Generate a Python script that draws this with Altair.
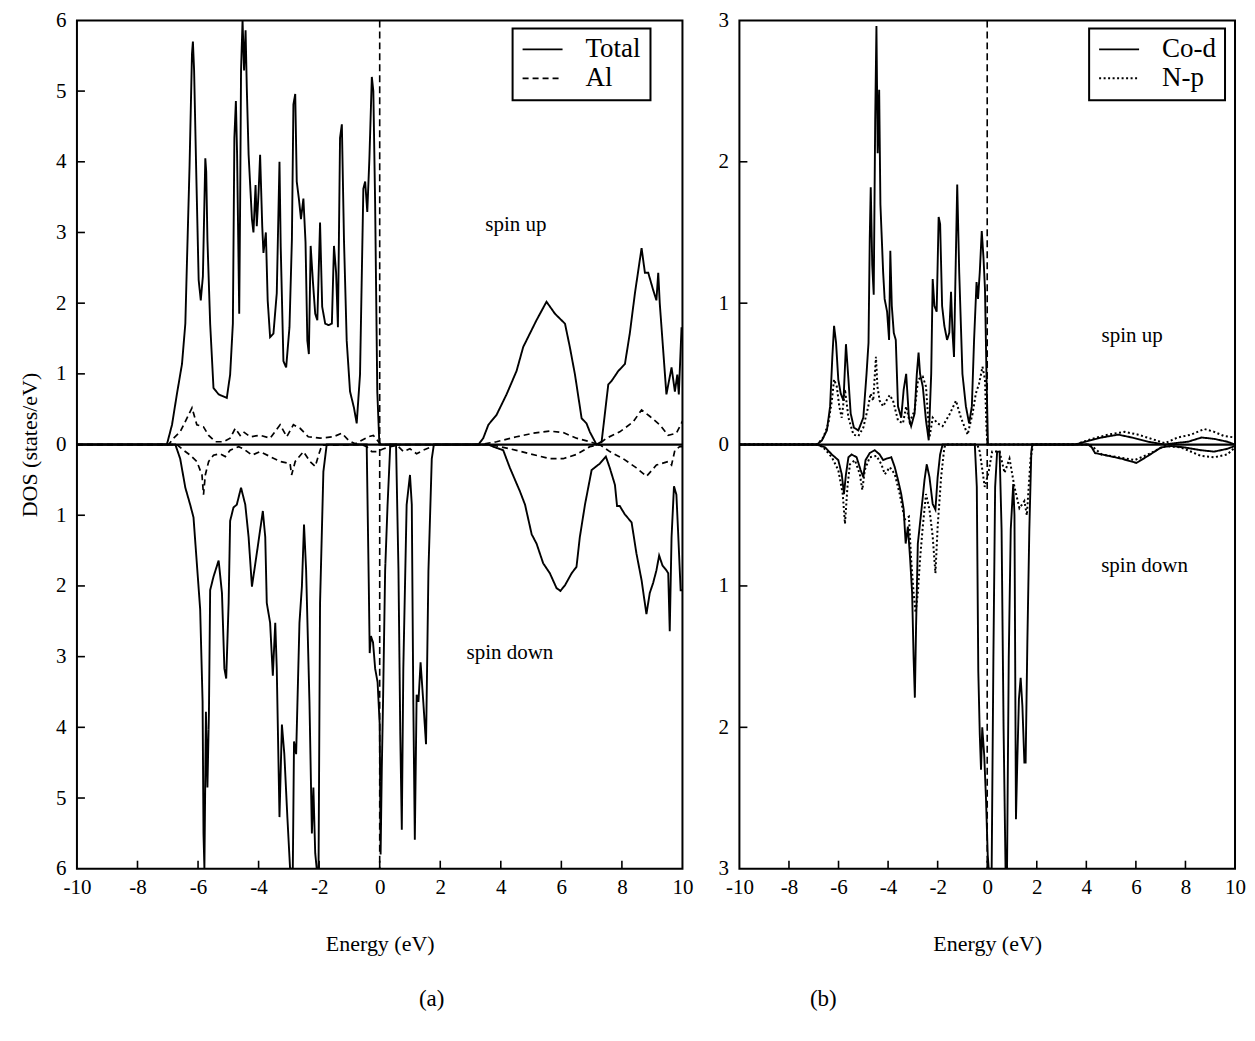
import altair as alt
import pandas as pd

FONT = "Liberation Serif"

# ---------------- axis ticks ----------------
X_TICKS = [-10, -8, -6, -4, -2, 0, 2, 4, 6, 8, 10]
X_INNER_TICKS = [-8, -6, -4, -2, 0, 2, 4, 6, 8]
A_Y_TICKS = [-6, -5, -4, -3, -2, -1, 0, 1, 2, 3, 4, 5, 6]
A_Y_INNER = [-5, -4, -3, -2, -1, 1, 2, 3, 4, 5]
B_Y_TICKS = [-3, -2, -1, 0, 1, 2, 3]
B_Y_INNER = [-2, -1, 1, 2]
FERMI = [0]
ZERO = [0]

# ---------------- panel (a): (energy, |DOS|) ----------------
A_TOTAL_UP = [
    (-10, 0), (-7.03, 0), (-6.86, 0.28), (-6.70, 0.71), (-6.53, 1.14), (-6.42, 1.71), (-6.37, 2.52),
    (-6.28, 3.95), (-6.20, 5.53), (-6.17, 5.70), (-6.13, 5.29), (-6.06, 3.86), (-5.98, 2.33),
    (-5.91, 2.04), (-5.84, 2.38), (-5.76, 4.05), (-5.73, 3.86), (-5.69, 2.90), (-5.60, 1.71),
    (-5.49, 0.80), (-5.32, 0.71), (-5.16, 0.68), (-5.05, 0.66), (-4.94, 0.99), (-4.85, 1.71),
    (-4.80, 4.34), (-4.75, 4.86), (-4.71, 4.10), (-4.64, 1.85), (-4.61, 3.38), (-4.58, 5.29),
    (-4.53, 6.0), (-4.48, 5.29), (-4.43, 5.86), (-4.39, 5.05), (-4.33, 4.10), (-4.22, 3.19),
    (-4.17, 3.0), (-4.10, 3.67), (-4.06, 3.09), (-4.00, 3.57), (-3.95, 4.10), (-3.88, 3.09),
    (-3.84, 2.71), (-3.76, 3.0), (-3.70, 2.04), (-3.62, 1.52), (-3.51, 1.57), (-3.40, 2.14),
    (-3.31, 4.0), (-3.27, 2.81), (-3.18, 1.18), (-3.09, 1.09), (-2.98, 1.66), (-2.90, 2.90),
    (-2.85, 4.81), (-2.79, 4.96), (-2.74, 3.72), (-2.67, 3.48), (-2.60, 3.19), (-2.52, 3.48),
    (-2.45, 2.86), (-2.39, 1.47), (-2.34, 1.28), (-2.28, 2.81), (-2.21, 2.33), (-2.13, 1.85),
    (-2.06, 1.76), (-1.97, 3.14), (-1.90, 1.95), (-1.80, 1.71), (-1.69, 1.69), (-1.58, 1.71),
    (-1.51, 2.81), (-1.44, 2.43), (-1.38, 1.66), (-1.31, 4.34), (-1.25, 4.53), (-1.18, 2.90),
    (-1.09, 1.47), (-0.98, 0.75), (-0.85, 0.52), (-0.76, 0.30), (-0.65, 0.99), (-0.54, 3.62),
    (-0.48, 3.72), (-0.41, 3.29), (-0.34, 4.05), (-0.26, 5.20), (-0.21, 5.0), (-0.15, 3.38),
    (-0.08, 0.75), (-0.01, 0), (3.26, 0), (3.42, 0.09), (3.59, 0.28), (3.86, 0.42), (4.19, 0.71),
    (4.52, 1.04), (4.74, 1.38), (4.96, 1.57), (5.18, 1.76), (5.51, 2.02), (5.79, 1.85),
    (6.12, 1.71), (6.28, 1.38), (6.45, 0.99), (6.67, 0.37), (6.83, 0.30), (6.94, 0.18),
    (7.16, 0), (7.33, 0.04), (7.55, 0.85), (7.66, 0.90), (7.88, 1.04), (8.10, 1.14),
    (8.26, 1.57), (8.43, 2.14), (8.65, 2.78), (8.76, 2.43), (8.87, 2.43), (9.03, 2.19),
    (9.14, 2.04), (9.20, 2.43), (9.25, 2.0), (9.47, 0.71), (9.64, 1.09), (9.75, 0.75),
    (9.83, 0.99), (9.88, 0.71), (9.97, 1.66),
]
A_TOTAL_DOWN = [
    (-10, 0), (-6.75, 0), (-6.59, 0.20), (-6.42, 0.61), (-6.26, 0.85), (-6.15, 1.03), (-6.04, 1.68),
    (-5.93, 2.33), (-5.85, 3.64), (-5.82, 5.50), (-5.79, 6.0), (-5.74, 3.78), (-5.69, 4.85),
    (-5.64, 3.78), (-5.60, 2.06), (-5.49, 1.87), (-5.32, 1.64), (-5.21, 2.10), (-5.13, 3.17),
    (-5.07, 3.31), (-4.99, 2.24), (-4.94, 1.08), (-4.83, 0.89), (-4.72, 0.85), (-4.58, 0.61),
    (-4.44, 0.85), (-4.33, 1.31), (-4.22, 2.01), (-4.06, 1.54), (-3.86, 0.94), (-3.78, 1.31),
    (-3.73, 2.24), (-3.62, 2.52), (-3.53, 3.27), (-3.45, 2.52), (-3.40, 3.17), (-3.31, 5.27),
    (-3.23, 3.96), (-3.15, 4.38), (-3.05, 5.27), (-2.96, 6.0), (-2.87, 6.0), (-2.83, 4.20),
    (-2.76, 4.38), (-2.65, 2.52), (-2.57, 2.01), (-2.50, 1.13), (-2.43, 1.78), (-2.32, 3.64),
    (-2.24, 5.50), (-2.19, 4.85), (-2.13, 5.78), (-2.08, 6.0), (-2.02, 6.0), (-1.97, 2.24),
    (-1.86, 0.38), (-1.75, 0), (-0.43, 0), (-0.36, 2.0), (-0.33, 2.95), (-0.29, 2.71),
    (-0.22, 2.80), (-0.15, 3.17), (-0.07, 3.36), (0.0, 3.96), (0.03, 5.8), (0.07, 4.57),
    (0.11, 3.64), (0.18, 1.78), (0.26, 0.85), (0.35, 0), (0.54, 0), (0.62, 1.78), (0.68, 4.10),
    (0.73, 5.45), (0.78, 3.17), (0.89, 0.85), (1.00, 0.43), (1.06, 0.85), (1.11, 3.64),
    (1.16, 5.59), (1.22, 3.54), (1.28, 3.64), (1.35, 3.08), (1.44, 3.64), (1.53, 4.24),
    (1.61, 1.78), (1.72, 0.20), (1.79, 0), (3.59, 0), (3.75, 0.03), (4.08, 0.08), (4.30, 0.33),
    (4.63, 0.66), (4.80, 0.85), (5.02, 1.27), (5.18, 1.40), (5.40, 1.68), (5.62, 1.82),
    (5.84, 2.03), (5.97, 2.07), (6.12, 1.99), (6.34, 1.82), (6.50, 1.73), (6.61, 1.31),
    (6.78, 0.85), (7.00, 0.36), (7.27, 0.27), (7.47, 0.17), (7.60, 0.33), (7.77, 0.57),
    (7.84, 0.87), (7.93, 0.87), (8.10, 0.99), (8.32, 1.10), (8.48, 1.54), (8.65, 1.92),
    (8.81, 2.40), (8.92, 2.10), (9.03, 1.96), (9.14, 1.78), (9.23, 1.57), (9.34, 1.71),
    (9.47, 1.78), (9.53, 1.82), (9.58, 2.64), (9.64, 1.31), (9.72, 0.59), (9.80, 0.71),
    (9.86, 1.27), (9.94, 2.06), (10.0, 2.06),
]
A_AL_UP = [
    (-10, 0), (-6.97, 0), (-6.81, 0.09), (-6.59, 0.18), (-6.37, 0.37), (-6.20, 0.52), (-6.04, 0.28),
    (-5.82, 0.25), (-5.65, 0.13), (-5.43, 0.04), (-5.16, 0.04), (-4.94, 0.09), (-4.77, 0.23),
    (-4.61, 0.13), (-4.50, 0.18), (-4.28, 0.11), (-3.95, 0.13), (-3.62, 0.09), (-3.29, 0.28),
    (-3.07, 0.11), (-2.85, 0.28), (-2.63, 0.23), (-2.36, 0.11), (-1.97, 0.09), (-1.53, 0.11),
    (-1.25, 0.16), (-1.03, 0.06), (-0.81, 0.01), (-0.59, 0.06), (-0.37, 0.11), (-0.21, 0.13),
    (-0.04, 0.04), (0.05, 0), (3.31, 0), (3.86, 0.04), (4.52, 0.11), (5.07, 0.16), (5.62, 0.19),
    (6.06, 0.17), (6.50, 0.09), (6.94, 0.04), (7.22, 0), (7.49, 0.09), (7.93, 0.18), (8.37, 0.32),
    (8.65, 0.49), (8.92, 0.40), (9.25, 0.28), (9.53, 0.13), (9.80, 0.16), (10.0, 0.33),
]
A_AL_DOWN = [
    (-10, 0), (-6.70, 0), (-6.48, 0.08), (-6.26, 0.15), (-6.04, 0.24), (-5.87, 0.43), (-5.82, 0.71),
    (-5.76, 0.43), (-5.65, 0.24), (-5.49, 0.15), (-5.27, 0.13), (-5.10, 0.17), (-4.94, 0.08),
    (-4.66, 0.03), (-4.50, 0.06), (-4.22, 0.15), (-3.95, 0.10), (-3.62, 0.17), (-3.29, 0.24),
    (-2.96, 0.27), (-2.91, 0.43), (-2.79, 0.24), (-2.52, 0.10), (-2.30, 0.24), (-2.13, 0.31),
    (-2.02, 0.15), (-1.91, 0.01), (-0.60, 0), (-0.43, 0.03), (-0.26, 0.10), (-0.10, 0.10),
    (0.13, 0.06), (0.35, 0.03), (0.57, 0.01), (0.79, 0.10), (1.00, 0.06), (1.22, 0.13),
    (1.44, 0.08), (1.72, 0.03), (1.83, 0), (3.64, 0), (4.30, 0.06), (4.96, 0.13), (5.62, 0.20),
    (6.06, 0.20), (6.50, 0.14), (6.94, 0.03), (7.27, 0), (7.60, 0.10), (8.04, 0.20), (8.48, 0.33),
    (8.81, 0.45), (9.14, 0.29), (9.53, 0.24), (9.64, 0.29), (9.75, 0.08), (9.91, 0.03), (10.0, 0.03),
]

# ---------------- panel (b): (energy, |DOS|) ----------------
B_COD_UP = [
    (-10, 0), (-6.87, 0), (-6.67, 0.03), (-6.47, 0.10), (-6.34, 0.27), (-6.25, 0.62), (-6.18, 0.84),
    (-6.10, 0.72), (-6.01, 0.46), (-5.91, 0.36), (-5.80, 0.31), (-5.70, 0.71), (-5.60, 0.46),
    (-5.51, 0.22), (-5.38, 0.12), (-5.20, 0.10), (-5.00, 0.19), (-4.87, 0.50), (-4.79, 0.72),
    (-4.74, 1.46), (-4.70, 1.82), (-4.64, 1.27), (-4.58, 1.06), (-4.52, 2.30), (-4.47, 2.96),
    (-4.42, 2.06), (-4.36, 2.51), (-4.31, 1.70), (-4.20, 1.22), (-4.14, 1.03), (-4.04, 0.94),
    (-3.96, 0.74), (-3.91, 1.37), (-3.85, 0.98), (-3.77, 0.79), (-3.69, 0.74), (-3.60, 0.27),
    (-3.47, 0.19), (-3.37, 0.39), (-3.27, 0.50), (-3.16, 0.19), (-3.07, 0.13), (-2.93, 0.22),
    (-2.84, 0.50), (-2.77, 0.65), (-2.71, 0.50), (-2.60, 0.41), (-2.47, 0.17), (-2.36, 0.03),
    (-2.26, 0.50), (-2.20, 1.17), (-2.13, 0.98), (-2.04, 0.94), (-1.96, 1.61), (-1.90, 1.56),
    (-1.82, 0.98), (-1.73, 0.84), (-1.62, 0.74), (-1.53, 0.79), (-1.46, 1.08), (-1.40, 0.79),
    (-1.34, 0.62), (-1.29, 1.10), (-1.21, 1.84), (-1.13, 1.22), (-1.00, 0.50), (-0.86, 0.27),
    (-0.73, 0.15), (-0.62, 0.27), (-0.53, 0.74), (-0.43, 1.15), (-0.37, 1.03), (-0.30, 1.22),
    (-0.22, 1.51), (-0.15, 1.32), (-0.09, 1.10), (-0.03, 0.50), (0.03, 0), (3.55, 0),
    (3.95, 0.02), (4.62, 0.05), (5.29, 0.07), (5.83, 0.05), (6.50, 0.02), (7.17, 0), (7.57, 0.01),
    (8.11, 0.02), (8.65, 0.05), (9.16, 0.04), (9.69, 0.02), (10.0, 0),
]
B_NP_UP = [
    (-10, 0), (-6.87, 0), (-6.61, 0.05), (-6.41, 0.15), (-6.27, 0.31), (-6.18, 0.46), (-6.07, 0.41),
    (-5.97, 0.27), (-5.87, 0.19), (-5.74, 0.39), (-5.60, 0.19), (-5.40, 0.07), (-5.20, 0.06),
    (-5.00, 0.12), (-4.80, 0.27), (-4.71, 0.36), (-4.60, 0.31), (-4.49, 0.62), (-4.43, 0.41),
    (-4.34, 0.31), (-4.20, 0.27), (-4.07, 0.31), (-3.93, 0.35), (-3.80, 0.31), (-3.60, 0.17),
    (-3.40, 0.15), (-3.27, 0.27), (-3.13, 0.16), (-2.93, 0.24), (-2.79, 0.46), (-2.60, 0.48),
    (-2.47, 0.41), (-2.33, 0.05), (-2.20, 0.19), (-2.00, 0.15), (-1.80, 0.13), (-1.53, 0.21),
    (-1.26, 0.31), (-1.06, 0.19), (-0.79, 0.07), (-0.59, 0.22), (-0.46, 0.36), (-0.33, 0.43),
    (-0.19, 0.55), (-0.09, 0.46), (-0.03, 0.12), (0.01, 0), (3.55, 0), (4.22, 0.04), (4.89, 0.07),
    (5.55, 0.09), (6.09, 0.07), (6.63, 0.04), (7.17, 0.01), (7.69, 0.05), (8.23, 0.07),
    (8.76, 0.11), (9.16, 0.09), (9.56, 0.06), (10.0, 0.05),
]
B_COD_DOWN = [
    (-10, 0), (-6.87, 0), (-6.54, 0.02), (-6.27, 0.07), (-6.01, 0.11), (-5.87, 0.21), (-5.78, 0.35),
    (-5.70, 0.21), (-5.60, 0.09), (-5.47, 0.07), (-5.27, 0.09), (-5.11, 0.18), (-5.00, 0.23),
    (-4.91, 0.11), (-4.74, 0.06), (-4.54, 0.04), (-4.34, 0.07), (-4.20, 0.11), (-4.07, 0.10),
    (-3.87, 0.09), (-3.73, 0.16), (-3.60, 0.25), (-3.47, 0.35), (-3.37, 0.46), (-3.29, 0.70),
    (-3.20, 0.58), (-3.11, 0.81), (-3.03, 1.05), (-2.97, 1.51), (-2.92, 1.79), (-2.87, 1.28),
    (-2.80, 0.70), (-2.67, 0.49), (-2.53, 0.25), (-2.44, 0.14), (-2.33, 0.23), (-2.20, 0.42),
    (-2.09, 0.46), (-2.00, 0.23), (-1.90, 0.07), (-1.80, 0), (-0.50, 0), (-0.42, 0.3),
    (-0.36, 1.6), (-0.30, 2.05), (-0.25, 2.3), (-0.20, 2.0), (-0.12, 2.2), (-0.05, 2.5),
    (0.02, 2.9), (0.06, 3.0), (0.12, 3.0), (0.18, 3.0), (0.25, 1.5), (0.32, 0.3), (0.40, 0.05),
    (0.50, 0.05), (0.58, 0.6), (0.66, 2.0), (0.74, 3.0), (0.80, 3.0), (0.87, 1.5), (0.95, 0.6),
    (1.05, 0.28), (1.10, 0.5), (1.16, 2.65), (1.22, 2.2), (1.28, 1.8), (1.35, 1.65), (1.42, 1.85),
    (1.50, 2.25), (1.55, 2.25), (1.62, 1.4), (1.70, 0.6), (1.78, 0.05), (1.82, 0), (3.55, 0),
    (4.08, 0), (4.22, 0.02), (4.35, 0.06), (4.89, 0.08), (5.42, 0.10), (6.02, 0.13), (6.49, 0.08),
    (7.02, 0.02), (7.42, 0.01), (7.95, 0.02), (8.62, 0.04), (9.16, 0.05), (9.69, 0.03), (10.0, 0.01),
]
B_NP_DOWN = [
    (-10, 0), (-6.85, 0), (-6.61, 0.02), (-6.27, 0.09), (-6.01, 0.18), (-5.83, 0.35), (-5.74, 0.56),
    (-5.64, 0.30), (-5.54, 0.14), (-5.34, 0.11), (-5.14, 0.21), (-5.04, 0.32), (-4.94, 0.18),
    (-4.74, 0.09), (-4.47, 0.08), (-4.27, 0.14), (-4.13, 0.21), (-3.93, 0.16), (-3.73, 0.21),
    (-3.53, 0.35), (-3.33, 0.53), (-3.16, 0.51), (-3.07, 0.81), (-2.97, 1.05), (-2.89, 1.19),
    (-2.80, 1.05), (-2.71, 0.81), (-2.60, 0.58), (-2.47, 0.35), (-2.33, 0.46), (-2.20, 0.65),
    (-2.09, 0.91), (-2.00, 0.58), (-1.86, 0.23), (-1.73, 0.02), (-1.66, 0), (-0.40, 0),
    (-0.30, 0.05), (-0.10, 0.3), (0.05, 0.2), (0.20, 0.05), (0.50, 0.05), (0.70, 0.2), (0.90, 0.1),
    (1.10, 0.3), (1.30, 0.45), (1.50, 0.4), (1.60, 0.5), (1.75, 0.1), (1.85, 0), (4.00, 0),
    (4.22, 0.01), (4.62, 0.07), (5.29, 0.09), (5.95, 0.11), (6.49, 0.07), (7.16, 0.01),
    (7.82, 0.02), (8.62, 0.08), (9.16, 0.09), (9.69, 0.07), (10.0, 0.02),
]

A_SERIES = ["Total", "Al"]
B_SERIES = ["Co-d", "N-p"]
A_NOTES = {"E": [4.5, 4.3], "DOS": [3.1, -2.95], "label": ["spin up", "spin down"]}
B_NOTES = {"E": [5.85, 6.35], "DOS": [0.77, -0.86], "label": ["spin up", "spin down"]}


def build(curves):
    rows = []
    for series, spin, pts in curves:
        sign = 1 if spin == "up" else -1
        for i, (e, d) in enumerate(pts):
            rows.append({"E": e, "DOS": sign * d, "series": series, "spin": spin, "idx": i})
    return pd.DataFrame(rows)


df_a = build([("Total", "up", A_TOTAL_UP), ("Total", "down", A_TOTAL_DOWN),
              ("Al", "up", A_AL_UP), ("Al", "down", A_AL_DOWN)])
df_b = build([("Co-d", "up", B_COD_UP), ("Co-d", "down", B_COD_DOWN),
              ("N-p", "up", B_NP_UP), ("N-p", "down", B_NP_DOWN)])

H = 849
X_LABEL_EXPR = "datum.value < 0 ? '-' + abs(datum.value) : '' + datum.value"


def panel(df, series, dash_range, line_widths, ydom, yticks, yinner, ytitle, W,
          legx, legy, notes, tag, tag_dx):
    xs = alt.Scale(domain=[-10, 10], nice=False, zero=False)
    ys = alt.Scale(domain=ydom, nice=False, zero=False)
    xax = alt.Axis(values=X_TICKS, title="Energy (eV)", ticks=False, domain=False, grid=False,
                   labelFlush=False, labelExpr=X_LABEL_EXPR, labelPadding=8, titlePadding=36)
    yax = alt.Axis(values=yticks, title=ytitle, ticks=False, domain=False, grid=False,
                   labelExpr="'' + abs(datum.value)", labelPadding=11, titlePadding=14)
    X = alt.X("E:Q", scale=xs, axis=xax)
    Y = alt.Y("DOS:Q", scale=ys, axis=yax)

    lines = alt.Chart(df).mark_line(color="black", clip=True, strokeCap="butt").encode(
        x=X, y=Y,
        strokeDash=alt.StrokeDash(
            "series:N",
            scale=alt.Scale(domain=series, range=dash_range),
            legend=alt.Legend(title=None, orient="none", legendX=legx, legendY=legy,
                              symbolType="stroke", symbolSize=1600, symbolStrokeWidth=2,
                              symbolStrokeColor="black", labelFont=FONT, labelFontSize=27,
                              labelColor="black", labelOffset=22, rowPadding=2,
                              clipHeight=24, padding=9, strokeColor="black",
                              fillColor="white"),
        ),
        strokeWidth=alt.StrokeWidth("series:N", scale=alt.Scale(domain=series, range=line_widths),
                                    legend=None),
        detail="spin:N",
        order="idx:Q",
    )
    fermi = alt.Chart(pd.DataFrame({"E": FERMI})).mark_rule(
        color="black", strokeWidth=1.6, strokeDash=[7, 4]).encode(
        x=X, y=alt.value(0), y2=alt.value(H))
    zero = alt.Chart(pd.DataFrame({"DOS": ZERO})).mark_rule(color="black", strokeWidth=2.2).encode(
        y=Y, x=alt.value(0), x2=alt.value(W))
    xt = alt.Chart(pd.DataFrame({"E": X_INNER_TICKS})).mark_rule(color="black", strokeWidth=1.6).encode(
        x=X, y=alt.value(H), y2=alt.value(H - 8))
    yt = alt.Chart(pd.DataFrame({"DOS": yinner})).mark_rule(color="black", strokeWidth=1.6).encode(
        y=Y, x=alt.value(0), x2=alt.value(8))
    txt = alt.Chart(pd.DataFrame(notes)).mark_text(font=FONT, fontSize=21, color="black").encode(
        x=X, y=Y, text="label:N")
    return alt.layer(lines, fermi, zero, xt, yt, txt).properties(
        width=W, height=H,
        title=alt.TitleParams(tag, orient="bottom", anchor="middle", dx=tag_dx, offset=33,
                              font=FONT, fontSize=23, fontWeight="normal", color="black"),
    )


pa = panel(df_a, A_SERIES, [[1, 0], [6, 4]], [1.9, 1.7], [-6, 6], A_Y_TICKS, A_Y_INNER,
           "DOS (states/eV)", 606, 436, 8, A_NOTES, "(a)", 52)
pb = panel(df_b, B_SERIES, [[1, 0], [2, 2.5]], [1.9, 2.0], [-3, 3], B_Y_TICKS, B_Y_INNER,
           None, 496, 350, 8, B_NOTES, "(b)", -164)

chart = alt.hconcat(pa, pb, spacing=22).resolve_scale(
    x="independent", y="independent", strokeDash="independent", strokeWidth="independent"
).resolve_legend(strokeDash="independent").configure_view(
    stroke="black", strokeWidth=2
).configure_axis(
    labelFont=FONT, labelFontSize=21, labelColor="black",
    titleFont=FONT, titleFontSize=22, titleFontWeight="normal", titleColor="black",
).configure_legend(strokeWidth=2).properties(
    padding={"left": 9, "top": 0, "right": 0, "bottom": 0}
)

chart.save("out.html", embed_options={"renderer": "svg", "actions": False})
